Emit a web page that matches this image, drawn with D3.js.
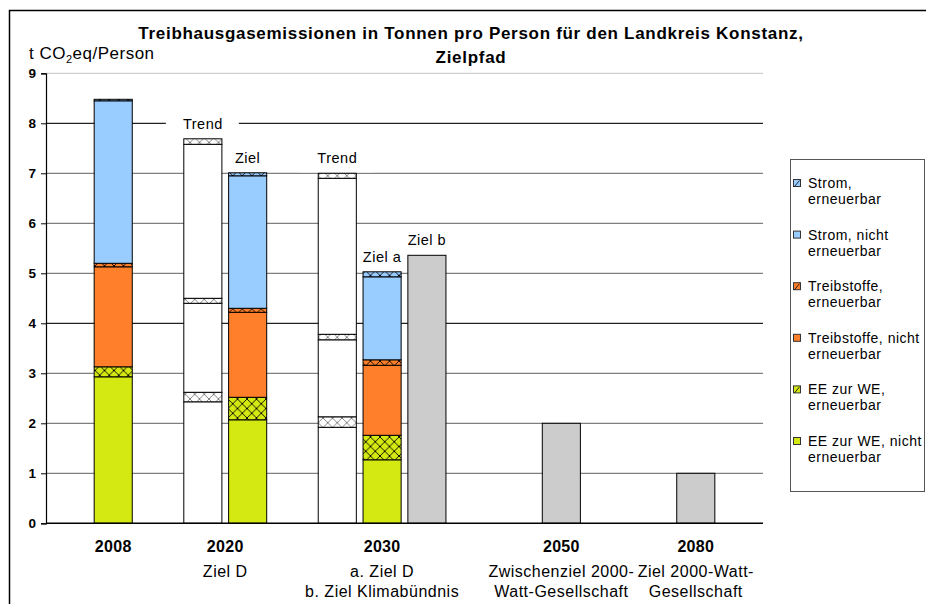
<!DOCTYPE html>
<html>
<head>
<meta charset="utf-8">
<script src="https://cdn.jsdelivr.net/npm/d3@7"></script>
<style>
  body { margin: 0; background: #fff; }
  svg { display: block; font-family: "Liberation Sans", Arial, sans-serif; }
</style>
</head>
<body>
<svg id="chart" width="926" height="604"></svg>
<script>
// --- data ---
const slotCount = 16; // every bar sits in its own category slot, blanks in between

const seriesNames = [
  "EE zur WE, nicht erneuerbar",
  "EE zur WE, erneuerbar",
  "Treibstoffe, nicht erneuerbar",
  "Treibstoffe, erneuerbar",
  "Strom, nicht erneuerbar",
  "Strom, erneuerbar"
];

// stacked bars (2008, 2020 Trend, 2020 Ziel, 2030 Trend, 2030 Ziel a)
const stackSlots = [1, 3, 4, 6, 7];
const stackIsTrend = [false, true, false, true, false];
const stackValues = [
  [2.93, 0.20, 2.00, 0.07, 3.25, 0.03],
  [2.43, 0.19, 1.78, 0.10, 3.08, 0.11],
  [2.07, 0.45, 1.70, 0.08, 2.65, 0.06],
  [1.92, 0.21, 1.54, 0.11, 3.12, 0.10],
  [1.27, 0.49, 1.40, 0.11, 1.66, 0.10]
];

// plain target bars (2030 Ziel b, 2050, 2080)
const targetSlots = [8, 11, 14];
const targetValues = [5.36, 2.0, 1.0];

const barLabelSlots = [3, 4, 6, 7, 8];
const barLabelTexts = ["Trend", "Ziel", "Trend", "Ziel a", "Ziel b"];

const catSlots = [1, 3.5, 7, 11, 14];
const catYears = ["2008", "2020", "2030", "2050", "2080"];
const catNotes = [
  [],
  ["Ziel D"],
  ["a. Ziel D", "b. Ziel Klimabündnis"],
  ["Zwischenziel 2000-", "Watt-Gesellschaft"],
  ["Ziel 2000-Watt-", "Gesellschaft"]
];

const yTicks = d3.range(0, 10);

// --- styles ---
const seriesColors = ["#d4e811", "#d4e811", "#ff7f2a", "#ff7f2a", "#99ccff", "#99ccff"];
const seriesHatched = [false, true, false, true, false, true];
const gridColors = ["#000", "#7f7f7f", "#7f7f7f", "#7f7f7f", "#222", "#7f7f7f", "#7f7f7f", "#7f7f7f", "#222", "#cfcfcf"];

const svg = d3.select("#chart");

// frame around the whole chart
svg.append("rect")
  .attr("x", 9.5).attr("y", 10.5)
  .attr("width", 940).attr("height", 620)
  .attr("fill", "none").attr("stroke", "#000").attr("stroke-width", 1.5);

// --- scales ---
const x = d3.scaleBand()
  .domain(d3.range(slotCount))
  .range([46, 763])
  .paddingInner(0.15)
  .paddingOuter(0.075);

const y = d3.scaleLinear().domain([0, 9]).range([523.3, 73.3]);

const slotCenter = s => x(0) + x.bandwidth() / 2 + s * x.step();

// hatch patterns
const defs = svg.append("defs");
function hatch(id, bg, line) {
  const p = defs.append("pattern")
    .attr("id", id)
    .attr("patternUnits", "userSpaceOnUse")
    .attr("width", 9.5).attr("height", 9.5);
  p.append("rect").attr("width", 9.5).attr("height", 9.5).attr("fill", bg);
  p.append("path")
    .attr("d", "M0,0L9.5,9.5M9.5,0L0,9.5")
    .attr("stroke", line).attr("stroke-width", 0.9);
}
seriesColors.forEach((c, i) => hatch("h" + i, c, "#000"));
hatch("hTrend", "#fff", "#777");

// --- gridlines ---
svg.append("g")
  .selectAll("line")
  .data(yTicks.filter(d => d > 0))
  .join("line")
  .attr("x1", 46).attr("x2", x.range()[1])
  .attr("y1", d => y(d)).attr("y2", d => y(d))
  .attr("stroke", d => gridColors[d])
  .attr("stroke-width", 1.2);

// --- y axis ---
const yAxis = svg.append("g")
  .attr("transform", "translate(46,0)")
  .call(d3.axisLeft(y).tickValues(yTicks).tickSize(5).tickFormat(d3.format("d")));
yAxis.select(".domain").attr("stroke", "#000").attr("stroke-width", 1.2);
yAxis.selectAll(".tick line").attr("stroke", "#000");
yAxis.selectAll(".tick text")
  .attr("x", -10)
  .attr("font-size", 13.5).attr("font-weight", "bold")
  .attr("font-family", "Liberation Sans, Arial, sans-serif")
  .attr("fill", "#000");

// --- labels above bars (white boxes hide the gridline behind "Trend") ---
const totals = new Map();
stackSlots.forEach((s, i) => totals.set(s, d3.sum(stackValues[i])));
targetSlots.forEach((s, i) => totals.set(s, targetValues[i]));

const barLabels = svg.append("g")
  .selectAll("g")
  .data(barLabelSlots.map((s, i) => ({ slot: s, text: barLabelTexts[i] })))
  .join("g")
  .attr("transform", d => `translate(${slotCenter(d.slot)},${y(totals.get(d.slot)) - 15})`);
barLabels.filter(d => d.text === "Trend")
  .append("rect")
  .attr("x", -37).attr("y", -13).attr("width", 73).attr("height", 27)
  .attr("fill", "#fff");
barLabels.append("text")
  .attr("text-anchor", "middle")
  .attr("dy", "0.35em")
  .attr("font-size", 14.5)
  .attr("letter-spacing", 0.5)
  .text(d => d.text);

// --- stacked bars ---
const stacks = svg.append("g")
  .selectAll("g")
  .data(stackSlots.map((s, i) => {
    let acc = 0;
    return {
      slot: s,
      trend: stackIsTrend[i],
      segs: stackValues[i].map((v, k) => {
        const seg = { k, y0: acc, y1: acc + v };
        acc += v;
        return seg;
      })
    };
  }))
  .join("g");

stacks.selectAll("rect")
  .data(d => d.segs.map(s => ({ ...s, slot: d.slot, trend: d.trend })))
  .join("rect")
  .attr("x", d => x(d.slot))
  .attr("width", x.bandwidth())
  .attr("y", d => y(d.y1))
  .attr("height", d => y(d.y0) - y(d.y1))
  .attr("fill", d => {
    if (d.trend) return seriesHatched[d.k] ? "url(#hTrend)" : "#fff";
    return seriesHatched[d.k] ? `url(#h${d.k})` : seriesColors[d.k];
  })
  .attr("stroke", "#000")
  .attr("stroke-width", 1);

// --- target bars ---
svg.append("g")
  .selectAll("rect")
  .data(targetSlots.map((s, i) => ({ slot: s, v: targetValues[i] })))
  .join("rect")
  .attr("x", d => x(d.slot))
  .attr("width", x.bandwidth())
  .attr("y", d => y(d.v))
  .attr("height", d => y(0) - y(d.v))
  .attr("fill", "#cccccc")
  .attr("stroke", "#000")
  .attr("stroke-width", 1);

// x axis baseline
svg.append("line")
  .attr("x1", 46).attr("x2", x.range()[1])
  .attr("y1", y(0)).attr("y2", y(0))
  .attr("stroke", "#000").attr("stroke-width", 1.5);

// --- category labels ---
const cats = svg.append("g")
  .selectAll("g")
  .data(catSlots.map((s, i) => ({ slot: s, year: catYears[i], notes: catNotes[i] })))
  .join("g")
  .attr("transform", d => `translate(${slotCenter(d.slot)},0)`)
  .attr("text-anchor", "middle");
cats.append("text")
  .attr("y", 552)
  .attr("font-size", 16).attr("font-weight", "bold")
  .attr("letter-spacing", 0.3)
  .text(d => d.year);
cats.selectAll("text.note")
  .data(d => d.notes)
  .join("text")
  .attr("class", "note")
  .attr("y", (d, i) => 577 + i * 20)
  .attr("font-size", 16)
  .attr("letter-spacing", 0.5)
  .text(d => d);

// --- title ---
const title = svg.append("text")
  .attr("x", 471).attr("text-anchor", "middle")
  .attr("font-size", 17).attr("font-weight", "bold")
  .attr("letter-spacing", 0.7);
title.append("tspan").attr("x", 471).attr("y", 39)
  .text("Treibhausgasemissionen in Tonnen pro Person für den Landkreis Konstanz,");
title.append("tspan").attr("x", 471).attr("y", 63).text("Zielpfad");

// y unit label
const unit = svg.append("text").attr("x", 29).attr("y", 59)
  .attr("font-size", 17).attr("letter-spacing", 0.5);
unit.append("tspan").text("t CO");
unit.append("tspan").attr("font-size", 11).attr("dy", 4).text("2");
unit.append("tspan").attr("dy", -4).text("eq/Person");

// --- legend ---
const legend = svg.append("g");
legend.append("rect")
  .attr("x", 790.5).attr("y", 159.5)
  .attr("width", 134).attr("height", 332)
  .attr("fill", "#fff").attr("stroke", "#555").attr("stroke-width", 1);

const legendOrder = d3.range(seriesNames.length).reverse();
const items = legend.selectAll("g.item")
  .data(legendOrder)
  .join("g")
  .attr("class", "item")
  .attr("transform", (k, i) => `translate(793,${183 + i * 51.6})`);
items.append("rect")
  .attr("x", 0.5).attr("y", -3.5).attr("width", 7).attr("height", 7)
  .attr("fill", k => seriesColors[k])
  .attr("stroke", "#333").attr("stroke-width", 1);
items.filter(k => seriesHatched[k])
  .append("path")
  .attr("d", "M1.5,3.5L6.5,-2.5")
  .attr("stroke", "#000").attr("stroke-width", 0.8);
items.selectAll("text")
  .data(k => seriesNames[k].replace(" erneuerbar", "\nerneuerbar").split("\n"))
  .join("text")
  .attr("x", 15)
  .attr("y", (d, i) => 5 + i * 16)
  .attr("font-size", 14)
  .attr("letter-spacing", 0.5)
  .text(d => d);
</script>
</body>
</html>
